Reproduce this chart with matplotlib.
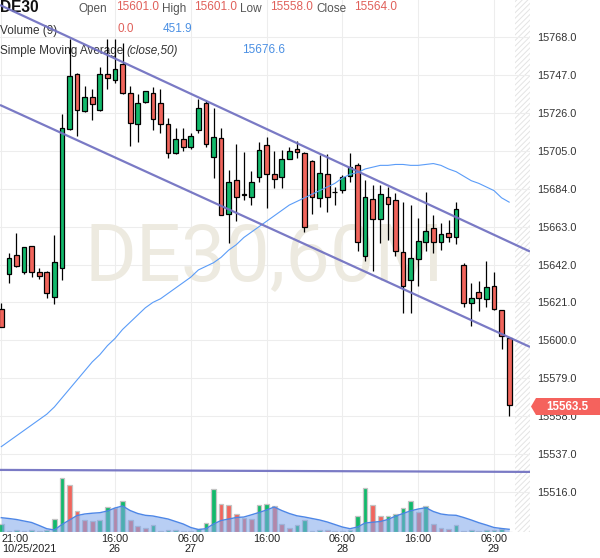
import matplotlib
matplotlib.use('Agg')
import matplotlib.pyplot as plt
from matplotlib.patches import Polygon

plt.rcParams['font.family'] = ['Liberation Sans', 'DejaVu Sans']
plt.rcParams['hatch.linewidth'] = 0.7

# hourly candles, index 0 = 21:00 on 10/25/2021
OPEN = [15617.2, 15636.7, 15647.3, 15637.7, 15652.3, 15637.7, 15637.7, 15623.8, 15639.9, 15717.0,
        15747.6, 15727.1, 15735.1, 15727.7, 15747.6, 15744.3, 15753.0, 15736.9, 15719.8, 15732.0,
        15736.9, 15731.4, 15719.8, 15703.7, 15711.4, 15707.3, 15716.6, 15731.4, 15701.5, 15712.0,
        15670.0, 15688.9, 15680.9, 15679.6, 15690.7, 15708.3, 15692.2, 15690.7, 15700.5, 15705.9,
        15704.0, 15699.6, 15678.9, 15692.2, 15682.4, 15683.3, 15691.1, 15697.2, 15646.7, 15678.3,
        15667.2, 15679.6, 15677.8, 15649.1, 15633.4, 15644.9, 15654.7, 15662.1, 15654.3, 15659.3,
        15657.1, 15641.7, 15620.5, 15626.6, 15622.7, 15630.1, 15616.8, 15601.0]
HIGH = [15620.8, 15648.6, 15659.3, 15651.8, 15652.5, 15639.9, 15638.6, 15658.4, 15725.3, 15766.9,
        15748.0, 15741.0, 15739.2, 15751.7, 15766.9, 15766.9, 15765.0, 15741.0, 15736.4, 15738.5,
        15740.6, 15739.3, 15723.1, 15717.5, 15717.5, 15714.8, 15733.8, 15733.2, 15728.6, 15717.9,
        15694.4, 15708.8, 15704.6, 15694.0, 15710.1, 15712.9, 15705.0, 15705.5, 15707.3, 15710.7,
        15704.2, 15699.8, 15702.7, 15703.3, 15685.2, 15691.6, 15703.7, 15698.3, 15688.9, 15686.1,
        15686.1, 15685.2, 15681.5, 15676.7, 15675.0, 15667.6, 15682.4, 15669.5, 15664.9, 15666.7,
        15676.8, 15643.0, 15631.6, 15632.9, 15644.1, 15638.0, 15617.0, 15601.0]
LOW = [15607.2, 15631.9, 15640.5, 15636.7, 15634.9, 15633.8, 15623.6, 15619.9, 15633.4, 15716.5,
       15713.3, 15726.4, 15722.1, 15727.0, 15739.2, 15742.5, 15736.4, 15707.9, 15709.8, 15731.5,
       15716.6, 15714.8, 15700.9, 15703.3, 15705.1, 15705.9, 15715.0, 15707.3, 15689.8, 15669.2,
       15654.1, 15666.3, 15677.8, 15675.0, 15687.8, 15673.2, 15684.6, 15684.6, 15700.3, 15700.9,
       15660.2, 15670.0, 15674.1, 15671.3, 15675.0, 15681.7, 15687.9, 15649.7, 15644.1, 15638.6,
       15654.1, 15655.6, 15646.7, 15615.3, 15615.3, 15630.1, 15649.7, 15648.2, 15650.1, 15654.7,
       15653.2, 15618.3, 15608.1, 15616.2, 15618.3, 15617.0, 15595.0, 15558.0]
CLOSE = [15607.5, 15645.5, 15641.3, 15651.5, 15637.7, 15635.6, 15626.0, 15643.2, 15717.5, 15746.5,
         15727.7, 15735.1, 15731.0, 15747.6, 15745.3, 15750.3, 15736.9, 15720.6, 15731.7, 15738.2,
         15722.5, 15719.8, 15703.7, 15711.4, 15707.0, 15713.4, 15728.6, 15708.7, 15712.9, 15669.5,
         15687.9, 15679.6, 15680.6, 15687.9, 15705.5, 15692.2, 15689.4, 15700.3, 15705.1, 15704.6,
         15663.0, 15679.4, 15692.6, 15679.4, 15682.2, 15690.4, 15695.9, 15654.7, 15679.4, 15667.2,
         15681.1, 15675.6, 15649.7, 15630.1, 15645.4, 15655.2, 15660.8, 15654.3, 15658.9, 15657.1,
         15672.6, 15620.5, 15623.3, 15623.3, 15629.4, 15617.2, 15602.4, 15564.0]
SMA50 = [15541, 15544, 15547, 15550, 15553, 15556, 15559, 15563, 15568, 15573,
         15578, 15583, 15588, 15592, 15597, 15601, 15606, 15610, 15614, 15618,
         15621, 15623, 15626, 15629, 15632, 15635, 15639, 15641, 15643, 15646,
         15650, 15653, 15657, 15660, 15663, 15666, 15669, 15672, 15675, 15677,
         15679, 15681, 15683, 15685, 15687, 15690, 15692, 15693, 15695, 15696,
         15697, 15697, 15697.5, 15697.5, 15697, 15697, 15697.5, 15698, 15697, 15695,
         15693.5, 15691, 15688.5, 15687, 15685, 15683, 15679, 15676.6]
VOLUME = [1540, 100, 310, 205, 210, 200, 310, 2560, 11070, 9530,
          4200, 2320, 2150, 2320, 5080, 4720, 6310, 2360, 1190, 720,
          1330, 100, 310, 330, 205, 160, 570, 1800, 8770, 5700,
          5370, 3650, 2830, 2620, 5490, 5700, 5170, 1480, 780, 1270,
          2420, 100, 310, 250, 100, 120, 310, 3120, 8980, 5370,
          3080, 3180, 3650, 4880, 6250, 4000, 5230, 1480, 780, 570,
          1390, 100, 310, 205, 310, 410, 450, 0]
VOLUME_SMA9 = [2830, 2665, 2460, 2150, 1845, 1230, 575, 310, 1435, 2360,
               3280, 3590, 3750, 3855, 4200, 4820, 5230, 4300, 3690, 3320,
               3180, 2870, 2560, 2050, 1540, 820, 410, 575, 1540, 2255,
               2560, 2870, 2970, 3420, 3900, 4410, 5020, 4300, 3690, 3220,
               2970, 2665, 2360, 1950, 1435, 920, 575, 920, 1740, 1900,
               2050, 2460, 3140, 3690, 4240, 4610, 4880, 4100, 3590, 3380,
               3320, 2870, 2360, 1800, 1330, 820, 615, 452]

X_TICKS = [0, 15, 25, 35, 45, 55, 65]
X_TIMES = ['21:00', '16:00', '06:00', '16:00', '06:00', '16:00', '06:00']
X_DATES = ['10/25/2021', '26', '27', '', '28', '', '29']
Y_TICKS = [15516, 15537, 15558, 15579, 15600, 15621, 15642, 15663, 15684, 15705, 15726, 15747, 15768]

# drawn channel lines (start / end as candle index, price)
UPPER_LINE = [(-0.17, 15785.9), (69.75, 15649.2)]
LOWER_LINE = [(-0.17, 15730.5), (69.75, 15596.3)]
FLAT_LINE = [(-0.17, 15528.1), (69.75, 15527.0)]

GREEN = '#12b96b'
RED = '#f1655c'
LINE_PURPLE = '#7373c2'
SMA_BLUE = '#5a9cf8'
TEXT_RED = '#e0605a'
TEXT_BLUE = '#4a8fe3'

W, H = 600, 558
PLOT_RIGHT = 530
PLOT_BOTTOM = 531.5
XLIM = (-0.17, 69.75)
YLIM = (15493.95, 15788.7)
VOL_TOP = 108958


def fx(px):
    return px / W


def fy(py):
    return 1 - py / H


fig = plt.figure(figsize=(W / 100, H / 100), dpi=100)
ax = fig.add_axes([0, fy(PLOT_BOTTOM), PLOT_RIGHT / W, PLOT_BOTTOM / H])
ax.set_xlim(*XLIM)
ax.set_ylim(*YLIM)

# volume underlay shares the x axis
vax = ax.twinx()
vax.set_ylim(0, VOL_TOP)
vax.set_yticks([])

for a in (ax, vax):
    for side in a.spines.values():
        side.set_visible(False)

ax.yaxis.tick_right()
ax.set_yticks(Y_TICKS)
ax.set_yticklabels(['{:.1f}'.format(v) for v in Y_TICKS])
ax.tick_params(axis='y', which='both', left=False, right=False, labelleft=False, labelright=True,
               length=0, pad=5, labelsize=7.8, labelcolor='#333333')
ax.set_xticks(X_TICKS)
ax.set_xticklabels([])
ax.tick_params(axis='x', length=0)
ax.grid(True, color='#ededed', linewidth=0.8, zorder=0)
ax.set_axisbelow(True)

# hatched strip at the right edge
ax.axvspan((515 - 1.3) / 7.58, XLIM[1], facecolor='none', edgecolor='#e4e4e4',
           hatch='//////', linewidth=0, zorder=0.5)

# watermark
ax.text(fx(264), fy(258), 'DE30,60M', transform=fig.transFigure, ha='center', va='center',
        fontsize=57, color='#edeae0', family=['Roboto', 'DejaVu Sans'], zorder=0.6)

# legend header
hdr = dict(transform=fig.transFigure, zorder=1, va='baseline')
ax.text(fx(0), fy(12.3), 'DE30', fontsize=11.2, fontweight='bold', color='#111111', **hdr)
for label, lx, value, vx in [('Open', 79, '15601.0', 116), ('High', 162, '15601.0', 194),
                             ('Low', 240, '15558.0', 270), ('Close', 316, '15564.0', 354)]:
    ax.text(fx(lx), fy(12.3), label, fontsize=8.5, color='#555555', **hdr)
    ax.text(fx(vx), fy(10), value, fontsize=8.5, color=TEXT_RED, **hdr)
ax.text(fx(0), fy(34), 'Volume (9)', fontsize=8.5, color='#333333', **hdr)
ax.text(fx(118), fy(31.7), '0.0', fontsize=8.5, color=TEXT_RED, **hdr)
ax.text(fx(163), fy(31.7), '451.9', fontsize=8.5, color=TEXT_BLUE, **hdr)
t = ax.text(fx(0), fy(54.3), 'Simple Moving Average ', fontsize=8.5, color='#333333', **hdr)
ax.annotate('(close,50)', xycoords=t, xy=(1, 0), va='bottom', fontsize=8.5, style='italic',
            color='#333333', zorder=1)
ax.text(fx(242), fy(52.7), '15676.6', fontsize=8.5, color=TEXT_BLUE, **hdr)

# candles
idx = list(range(len(OPEN)))
colors = [GREEN if c >= o else RED for o, c in zip(OPEN, CLOSE)]
bottoms = [min(o, c) for o, c in zip(OPEN, CLOSE)]
heights = [max(abs(c - o), 0.3) for o, c in zip(OPEN, CLOSE)]
ax.vlines(idx, LOW, HIGH, color='black', linewidth=0.9, zorder=3)
ax.bar(idx, heights, bottom=bottoms, width=0.62, color=colors, edgecolor='black',
       linewidth=0.9, zorder=4)

ax.plot(idx, SMA50, color=SMA_BLUE, linewidth=0.8, zorder=5)

for pts in (UPPER_LINE, LOWER_LINE, FLAT_LINE):
    ax.plot([p[0] for p in pts], [p[1] for p in pts], color=LINE_PURPLE, linewidth=1.6,
            alpha=0.95, zorder=6, solid_capstyle='butt')

# volume bars coloured by volume change, 9-period average on top
vol_colors = [GREEN if i == 0 or VOLUME[i] >= VOLUME[i - 1] else RED for i in idx]
vax.bar(idx, VOLUME, width=0.62, color=vol_colors, edgecolor='#c4c4c4', linewidth=0.9, zorder=2)
vax.fill_between(idx, VOLUME_SMA9, 0, color='#7ea6ec', alpha=0.55, linewidth=0, zorder=3)
vax.plot(idx, VOLUME_SMA9, color='#4d86e6', linewidth=1.0, zorder=4)

# time axis labels
for pos, tm, dt in zip(X_TICKS, X_TIMES, X_DATES):
    ha = 'left' if pos == 0 else 'center'
    dx = 0.5 if pos == 0 else 0
    ax.annotate(tm, xy=(pos, 0), xycoords=('data', 'axes fraction'), xytext=(dx, -7.5 * 0.72),
                textcoords='offset points', ha=ha, va='center', fontsize=7.8, color='#222222')
    if dt:
        ax.annotate(dt, xy=(pos, 0), xycoords=('data', 'axes fraction'), xytext=(dx, -17 * 0.72),
                    textcoords='offset points', ha=ha, va='center', fontsize=7.8, color='#222222')

# last price tag
tag = Polygon([(fx(531), fy(406.5)), (fx(536), fy(398)), (fx(600), fy(398)), (fx(600), fy(415)),
               (fx(536), fy(415))], closed=True, transform=fig.transFigure, facecolor='#f5625d',
              edgecolor='none', zorder=10)
fig.patches.append(tag)
fig.text(fx(567), fy(406.8), '15563.5', ha='center', va='center', fontsize=8.3, fontweight='bold',
         color='white', zorder=11)

fig.savefig('out.png', dpi=100)
